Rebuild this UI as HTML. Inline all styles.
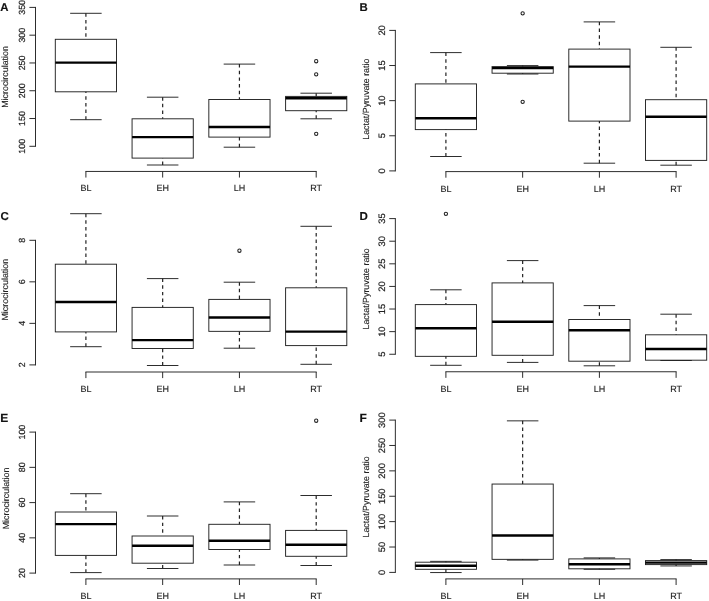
<!DOCTYPE html>
<html><head><meta charset="utf-8"><title>Boxplots</title>
<style>
html,body{margin:0;padding:0;background:#fff;}
body{width:709px;height:601px;overflow:hidden;}
svg{display:block;will-change:transform;filter:grayscale(1);}
svg text{text-rendering:geometricPrecision;font-family:"Liberation Sans",sans-serif;fill:#222;stroke:#222;stroke-width:.12px;}
.l{stroke:#222;stroke-width:0.95;fill:none;}
.m{stroke:#000;stroke-width:2.45;fill:none;}
.d{stroke:#222;stroke-width:1.2;fill:none;stroke-dasharray:3.45 3.2;}
.b{stroke:#222;stroke-width:0.95;fill:#fff;}
.o{stroke:#222;stroke-width:1.05;fill:none;}
.t{font-size:8.9px;text-anchor:middle;stroke-width:.2px;}
.t2{font-size:9.35px;text-anchor:middle;stroke-width:.2px;}
.y{font-size:8.9px;text-anchor:middle;}
.y2{font-size:8.85px;text-anchor:middle;}
.x{font-size:9px;text-anchor:middle;stroke-width:.12px;}
.h{font-size:11.4px;font-weight:bold;fill:#111;stroke:#111;stroke-width:.15px;}
</style></head><body>
<svg width="709" height="601" viewBox="0 0 709 601">
<rect width="709" height="601" fill="#fff"/>
<g>
<text class="h" x="0.3" y="11">A</text>
<path class="l" d="M35.5 6.93V146.78M35.5 7.4H29.4M35.5 35.18H29.4M35.5 62.96H29.4M35.5 90.74H29.4M35.5 118.52H29.4M35.5 146.3H29.4"/>
<text class="t" transform="translate(25.4 7.4) rotate(-90)">350</text>
<text class="t" transform="translate(25.4 35.18) rotate(-90)">300</text>
<text class="t" transform="translate(25.4 62.96) rotate(-90)">250</text>
<text class="t" transform="translate(25.4 90.74) rotate(-90)">200</text>
<text class="t" transform="translate(25.4 118.52) rotate(-90)">150</text>
<text class="t" transform="translate(25.4 146.3) rotate(-90)">100</text>
<text class="y" transform="translate(8.3 76.95) rotate(-90)">Microcirculation</text>
<path class="l" d="M85.43 171.45H316.68M85.9 171.45V177.55M162.67 171.45V177.55M239.43 171.45V177.55M316.2 171.45V177.55"/>
<text class="x" x="85.9" y="191.4">BL</text>
<text class="x" x="162.67" y="191.4">EH</text>
<text class="x" x="239.43" y="191.4">LH</text>
<text class="x" x="316.2" y="191.4">RT</text>
<rect class="b" x="55.3" y="39.3" width="61.2" height="52.5"/>
<path class="d" d="M85.9 13.3V39.3M85.9 119.7V91.8"/>
<path class="l" d="M70.15 13.3H101.65M70.15 119.7H101.65"/>
<path class="m" d="M55.3 62.6H116.5"/>
<rect class="b" x="132.07" y="118.8" width="61.2" height="39.3"/>
<path class="d" d="M162.67 97.2V118.8M162.67 165V158.1"/>
<path class="l" d="M146.92 97.2H178.42M146.92 165H178.42"/>
<path class="m" d="M132.07 137.1H193.27"/>
<rect class="b" x="208.83" y="99.5" width="61.2" height="37.6"/>
<path class="d" d="M239.43 64.1V99.5M239.43 147.2V137.1"/>
<path class="l" d="M223.68 64.1H255.18M223.68 147.2H255.18"/>
<path class="m" d="M208.83 126.9H270.03"/>
<rect class="b" x="285.6" y="96.4" width="61.2" height="14.3"/>
<path class="d" d="M316.2 93.2V96.4M316.2 118.8V110.7"/>
<path class="l" d="M300.45 93.2H331.95M300.45 118.8H331.95"/>
<path class="m" d="M285.6 98.2H346.8"/>
<circle class="o" cx="316.2" cy="61.2" r="1.65"/>
<circle class="o" cx="316.2" cy="74.3" r="1.65"/>
<circle class="o" cx="316.2" cy="133.8" r="1.65"/>
</g>
<g>
<text class="h" x="359.5" y="11">B</text>
<path class="l" d="M395.35 29.92V171.38M395.35 30.4H389.25M395.35 65.53H389.25M395.35 100.65H389.25M395.35 135.78H389.25M395.35 170.9H389.25"/>
<text class="t2" transform="translate(385.4 30.4) rotate(-90)">20</text>
<text class="t2" transform="translate(385.4 65.53) rotate(-90)">15</text>
<text class="t2" transform="translate(385.4 100.65) rotate(-90)">10</text>
<text class="t2" transform="translate(385.4 135.78) rotate(-90)">5</text>
<text class="t2" transform="translate(385.4 170.9) rotate(-90)">0</text>
<text class="y2" transform="translate(369.3 99.2) rotate(-90)">Lactat/Pyruvate ratio</text>
<path class="l" d="M445.42 171.6H676.58M445.9 171.6V177.7M522.65 171.6V177.7M599.4 171.6V177.7M676.1 171.6V177.7"/>
<text class="x" x="445.9" y="191.55">BL</text>
<text class="x" x="522.65" y="191.55">EH</text>
<text class="x" x="599.4" y="191.55">LH</text>
<text class="x" x="676.1" y="191.55">RT</text>
<rect class="b" x="415.3" y="83.9" width="61.2" height="45.7"/>
<path class="d" d="M445.9 52.6V83.9M445.9 156.5V129.6"/>
<path class="l" d="M430.15 52.6H461.65M430.15 156.5H461.65"/>
<path class="m" d="M415.3 118.2H476.5"/>
<rect class="b" x="492.05" y="66.6" width="61.2" height="6.6"/>
<path class="d" d="M522.65 65.6V66.6M522.65 74V73.2"/>
<path class="l" d="M506.9 65.6H538.4M506.9 74H538.4"/>
<path class="m" d="M492.05 68.1H553.25"/>
<circle class="o" cx="522.65" cy="13.3" r="1.65"/>
<circle class="o" cx="522.65" cy="101.8" r="1.65"/>
<rect class="b" x="568.8" y="49.1" width="61.2" height="72"/>
<path class="d" d="M599.4 21.9V49.1M599.4 163.2V121.1"/>
<path class="l" d="M583.65 21.9H615.15M583.65 163.2H615.15"/>
<path class="m" d="M568.8 66.6H630"/>
<rect class="b" x="645.5" y="99.7" width="61.2" height="60.7"/>
<path class="d" d="M676.1 47.3V99.7M676.1 165.2V160.4"/>
<path class="l" d="M660.35 47.3H691.85M660.35 165.2H691.85"/>
<path class="m" d="M645.5 116.7H706.7"/>
</g>
<g>
<text class="h" style="font-size:11.5px" x="0.4" y="219.5">C</text>
<path class="l" d="M35.5 239.83V365.38M35.5 240.3H29.4M35.5 281.83H29.4M35.5 323.37H29.4M35.5 364.9H29.4"/>
<text class="t" transform="translate(25.4 240.3) rotate(-90)">8</text>
<text class="t" transform="translate(25.4 281.83) rotate(-90)">6</text>
<text class="t" transform="translate(25.4 323.37) rotate(-90)">4</text>
<text class="t" transform="translate(25.4 364.9) rotate(-90)">2</text>
<text class="y" transform="translate(8.3 289.7) rotate(-90)">Microcirculation</text>
<path class="l" d="M85.43 372H316.68M85.9 372V378.1M162.67 372V378.1M239.43 372V378.1M316.2 372V378.1"/>
<text class="x" x="85.9" y="391.95">BL</text>
<text class="x" x="162.67" y="391.95">EH</text>
<text class="x" x="239.43" y="391.95">LH</text>
<text class="x" x="316.2" y="391.95">RT</text>
<rect class="b" x="55.3" y="264.2" width="61.2" height="67.7"/>
<path class="d" d="M85.9 213.7V264.2M85.9 346.7V331.9"/>
<path class="l" d="M70.15 213.7H101.65M70.15 346.7H101.65"/>
<path class="m" d="M55.3 301.9H116.5"/>
<rect class="b" x="132.07" y="307.4" width="61.2" height="41.1"/>
<path class="d" d="M162.67 278.6V307.4M162.67 365.5V348.5"/>
<path class="l" d="M146.92 278.6H178.42M146.92 365.5H178.42"/>
<path class="m" d="M132.07 340.1H193.27"/>
<rect class="b" x="208.83" y="299.4" width="61.2" height="31.95"/>
<path class="d" d="M239.43 282.2V299.4M239.43 348.2V331.35"/>
<path class="l" d="M223.68 282.2H255.18M223.68 348.2H255.18"/>
<path class="m" d="M208.83 317.4H270.03"/>
<circle class="o" cx="239.43" cy="250.7" r="1.65"/>
<rect class="b" x="285.6" y="287.8" width="61.2" height="57.8"/>
<path class="d" d="M316.2 226.3V287.8M316.2 364.3V345.6"/>
<path class="l" d="M300.45 226.3H331.95M300.45 364.3H331.95"/>
<path class="m" d="M285.6 331.6H346.8"/>
</g>
<g>
<text class="h" style="font-size:11.5px" x="359.5" y="219.5">D</text>
<path class="l" d="M395.35 218.12V354.73M395.35 218.6H389.25M395.35 241.21H389.25M395.35 263.82H389.25M395.35 286.43H389.25M395.35 309.03H389.25M395.35 331.64H389.25M395.35 354.25H389.25"/>
<text class="t2" transform="translate(385.4 218.6) rotate(-90)">35</text>
<text class="t2" transform="translate(385.4 241.21) rotate(-90)">30</text>
<text class="t2" transform="translate(385.4 263.82) rotate(-90)">25</text>
<text class="t2" transform="translate(385.4 286.43) rotate(-90)">20</text>
<text class="t2" transform="translate(385.4 309.03) rotate(-90)">15</text>
<text class="t2" transform="translate(385.4 331.64) rotate(-90)">10</text>
<text class="t2" transform="translate(385.4 354.25) rotate(-90)">5</text>
<text class="y2" transform="translate(368.6 288.9) rotate(-90)">Lactat/Pyruvate ratio</text>
<path class="l" d="M445.42 371.75H676.58M445.9 371.75V377.85M522.65 371.75V377.85M599.4 371.75V377.85M676.1 371.75V377.85"/>
<text class="x" x="445.9" y="391.7">BL</text>
<text class="x" x="522.65" y="391.7">EH</text>
<text class="x" x="599.4" y="391.7">LH</text>
<text class="x" x="676.1" y="391.7">RT</text>
<rect class="b" x="415.3" y="304.6" width="61.2" height="51.75"/>
<path class="d" d="M445.9 289.8V304.6M445.9 365.3V356.35"/>
<path class="l" d="M430.15 289.8H461.65M430.15 365.3H461.65"/>
<path class="m" d="M415.3 328.15H476.5"/>
<circle class="o" cx="445.9" cy="213.8" r="1.65"/>
<rect class="b" x="492.05" y="282.9" width="61.2" height="72.4"/>
<path class="d" d="M522.65 260.6V282.9M522.65 362.4V355.3"/>
<path class="l" d="M506.9 260.6H538.4M506.9 362.4H538.4"/>
<path class="m" d="M492.05 321.8H553.25"/>
<rect class="b" x="568.8" y="319.5" width="61.2" height="41.7"/>
<path class="d" d="M599.4 305.6V319.5M599.4 365.8V361.2"/>
<path class="l" d="M583.65 305.6H615.15M583.65 365.8H615.15"/>
<path class="m" d="M568.8 330.3H630"/>
<rect class="b" x="645.5" y="334.8" width="61.2" height="25.4"/>
<path class="d" d="M676.1 314.2V334.8M676.1 360.5V360.2"/>
<path class="l" d="M660.35 314.2H691.85M660.35 360.5H691.85"/>
<path class="m" d="M645.5 349H706.7"/>
</g>
<g>
<text class="h" style="font-size:12px" x="0.3" y="421.75">E</text>
<path class="l" d="M35.5 431.62V573.58M35.5 432.1H29.4M35.5 467.35H29.4M35.5 502.6H29.4M35.5 537.85H29.4M35.5 573.1H29.4"/>
<text class="t" transform="translate(25.4 432.1) rotate(-90)">100</text>
<text class="t" transform="translate(25.4 467.35) rotate(-90)">80</text>
<text class="t" transform="translate(25.4 502.6) rotate(-90)">60</text>
<text class="t" transform="translate(25.4 537.85) rotate(-90)">40</text>
<text class="t" transform="translate(25.4 573.1) rotate(-90)">20</text>
<text class="y" transform="translate(8.5 498.45) rotate(-90)">Microcirculation</text>
<path class="l" d="M85.43 578.9H316.68M85.9 578.9V585M162.67 578.9V585M239.43 578.9V585M316.2 578.9V585"/>
<text class="x" x="85.9" y="598.85">BL</text>
<text class="x" x="162.67" y="598.85">EH</text>
<text class="x" x="239.43" y="598.85">LH</text>
<text class="x" x="316.2" y="598.85">RT</text>
<rect class="b" x="55.3" y="512" width="61.2" height="43.4"/>
<path class="d" d="M85.9 493.7V512M85.9 572.6V555.4"/>
<path class="l" d="M70.15 493.7H101.65M70.15 572.6H101.65"/>
<path class="m" d="M55.3 524.1H116.5"/>
<rect class="b" x="132.07" y="536" width="61.2" height="27.2"/>
<path class="d" d="M162.67 516V536M162.67 568.5V563.2"/>
<path class="l" d="M146.92 516H178.42M146.92 568.5H178.42"/>
<path class="m" d="M132.07 545.7H193.27"/>
<rect class="b" x="208.83" y="524.3" width="61.2" height="25.2"/>
<path class="d" d="M239.43 501.9V524.3M239.43 565V549.5"/>
<path class="l" d="M223.68 501.9H255.18M223.68 565H255.18"/>
<path class="m" d="M208.83 540.8H270.03"/>
<rect class="b" x="285.6" y="530.4" width="61.2" height="25.9"/>
<path class="d" d="M316.2 495.5V530.4M316.2 565.5V556.3"/>
<path class="l" d="M300.45 495.5H331.95M300.45 565.5H331.95"/>
<path class="m" d="M285.6 544.7H346.8"/>
<circle class="o" cx="316.2" cy="420.7" r="1.65"/>
</g>
<g>
<text class="h" style="font-size:12px" x="359.5" y="421.75">F</text>
<path class="l" d="M395.35 419.62V572.88M395.35 420.1H389.25M395.35 445.48H389.25M395.35 470.87H389.25M395.35 496.25H389.25M395.35 521.63H389.25M395.35 547.02H389.25M395.35 572.4H389.25"/>
<text class="t2" transform="translate(385.4 420.1) rotate(-90)">300</text>
<text class="t2" transform="translate(385.4 445.48) rotate(-90)">250</text>
<text class="t2" transform="translate(385.4 470.87) rotate(-90)">200</text>
<text class="t2" transform="translate(385.4 496.25) rotate(-90)">150</text>
<text class="t2" transform="translate(385.4 521.63) rotate(-90)">100</text>
<text class="t2" transform="translate(385.4 547.02) rotate(-90)">50</text>
<text class="t2" transform="translate(385.4 572.4) rotate(-90)">0</text>
<text class="y2" transform="translate(368.6 496.9) rotate(-90)">Lactat/Pyruvate ratio</text>
<path class="l" d="M445.42 578.9H676.58M445.9 578.9V585M522.65 578.9V585M599.4 578.9V585M676.1 578.9V585"/>
<text class="x" x="445.9" y="598.85">BL</text>
<text class="x" x="522.65" y="598.85">EH</text>
<text class="x" x="599.4" y="598.85">LH</text>
<text class="x" x="676.1" y="598.85">RT</text>
<rect class="b" x="415.3" y="562.2" width="61.2" height="7.1"/>
<path class="d" d="M445.9 561.35V562.2M445.9 572.55V569.3"/>
<path class="l" d="M430.15 561.35H461.65M430.15 572.55H461.65"/>
<path class="m" d="M415.3 565.8H476.5"/>
<rect class="b" x="492.05" y="484.05" width="61.2" height="75.3"/>
<path class="d" d="M522.65 420.85V484.05M522.65 560.1V559.35"/>
<path class="l" d="M506.9 420.85H538.4M506.9 560.1H538.4"/>
<path class="m" d="M492.05 535.4H553.25"/>
<rect class="b" x="568.8" y="558.9" width="61.2" height="9.9"/>
<path class="d" d="M599.4 557.9V558.9M599.4 569.3V568.8"/>
<path class="l" d="M583.65 557.9H615.15M583.65 569.3H615.15"/>
<path class="m" d="M568.8 564.2H630"/>
<rect class="b" x="645.5" y="560.6" width="61.2" height="4"/>
<path class="d" d="M676.1 559.6V560.6M676.1 565.95V564.6"/>
<path class="l" d="M660.35 559.6H691.85M660.35 565.95H691.85"/>
<path class="m" d="M645.5 562.6H706.7"/>
</g>
</svg>
</body></html>
